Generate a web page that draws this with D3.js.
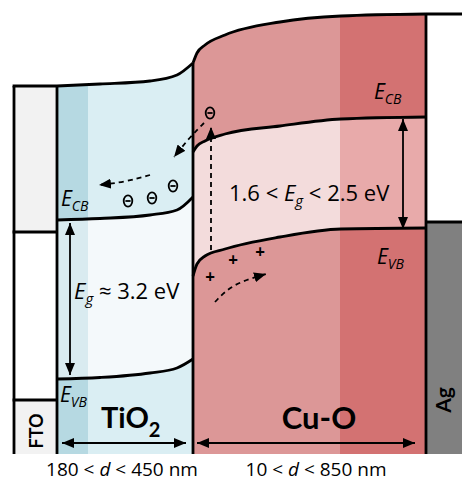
<!DOCTYPE html>
<html><head><meta charset="utf-8">
<script src="https://cdn.jsdelivr.net/npm/d3@7"></script>
<style>
body{margin:0;background:#fff}
svg{display:block;font-family:"Open Sans",Lato,sans-serif}
.name{font-family:Lato,"Open Sans",sans-serif;font-weight:bold}
</style>
</head><body>
<svg id="chart" width="462" height="482"></svg>
<script>
// layers and the positions where they meet (schematic position units)
var layers = ["FTO", "TiO2", "Cu-O", "Ag"];
var layerEdges = [14, 57, 193, 426, 462];

// band edges in eV, TiO2
var tiPos = [57, 100, 150, 177, 193];
var tiTop = [7.36, 7.40, 7.46, 7.58, 7.82];
var tiCB  = [4.68, 4.71, 4.78, 4.88, 5.14];
var tiVB  = [1.50, 1.53, 1.62, 1.72, 1.90];

// Cu-O
var cuPos = [193, 197, 205, 225, 280, 341, 426];
var cuTop = [7.82, 8.02, 8.18, 8.38, 8.64, 8.76, 8.80];
var cuCB  = [6.04, 6.16, 6.26, 6.40, 6.56, 6.70, 6.74];
var cuVB  = [3.56, 3.80, 3.96, 4.10, 4.34, 4.50, 4.52];

// contacts
var ftoLevels = [7.36, 4.44, 1.08];
var agTop = 4.64;

// carriers [position, energy]
var electrons = [[128, 5.06], [152, 5.12], [173, 5.36], [210, 6.82]];
var holes = [[210, 3.54], [233, 3.88], [260, 4.04]];

// carrier paths [position, energy]
var pathExcite = [[211, 4.08], [211, 6.54]];
var pathInject = [[204, 6.62], [190, 6.34], [174, 5.94]];
var pathDrift  = [[150, 5.58], [125, 5.44], [99, 5.38]];
var pathHole   = [[215, 3.04], [232, 3.40], [266, 3.60]];

var svg = d3.select("#chart");
var x = d3.scaleLinear().domain([0, 462]).range([0, 462]);
var y = d3.scaleLinear().domain([0, 9]).range([454, 4]);

function zip(p, v) { return p.map(function(d, i) { return [d, v[i]]; }); }

var line = d3.line().x(function(d) { return x(d[0]); }).y(function(d) { return y(d[1]); }).curve(d3.curveMonotoneX);
var lineBasis = d3.line().x(function(d) { return x(d[0]); }).y(function(d) { return y(d[1]); }).curve(d3.curveBasis);

var defs = svg.append("defs");
defs.append("marker").attr("id", "head")
    .attr("markerUnits", "userSpaceOnUse")
    .attr("viewBox", "0 0 12 10").attr("refX", 12).attr("refY", 5)
    .attr("markerWidth", 12).attr("markerHeight", 10)
    .attr("orient", "auto-start-reverse")
  .append("path").attr("d", "M0,0L12,5L0,10Z").attr("fill", "#000");

// draws one semiconductor layer
function drawLayer(id, pos, top, cb, vb, stripe, col) {
    var topPts = zip(pos, top);
    var area = d3.area().x(function(d) { return x(d[0]); })
        .y1(function(d) { return y(d[1]); }).y0(y(0)).curve(d3.curveMonotoneX);
    defs.append("clipPath").attr("id", "clip-" + id)
      .append("path").attr("d", area(topPts));
    defs.append("clipPath").attr("id", "stripe-" + id)
      .append("rect").attr("x", x(stripe[0])).attr("y", 0)
      .attr("width", x(stripe[1]) - x(stripe[0])).attr("height", y(0));

    var g = svg.append("g").attr("clip-path", "url(#clip-" + id + ")");
    g.append("rect").attr("x", x(pos[0])).attr("y", 0)
        .attr("width", x(pos[pos.length - 1]) - x(pos[0])).attr("height", y(0))
        .attr("fill", col[0]);
    g.append("rect").attr("x", x(stripe[0])).attr("y", 0)
        .attr("width", x(stripe[1]) - x(stripe[0])).attr("height", y(0))
        .attr("fill", col[1]);

    var gapArea = d3.area().x(function(d) { return x(d[0]); })
        .y0(function(d, i) { return y(vb[i]); })
        .y1(function(d) { return y(d[1]); }).curve(d3.curveMonotoneX);
    var cbPts = zip(pos, cb);
    g.append("path").attr("d", gapArea(cbPts)).attr("fill", col[2]);
    g.append("g").attr("clip-path", "url(#stripe-" + id + ")")
      .append("path").attr("d", gapArea(cbPts)).attr("fill", col[3]);

    // band edges
    [top, cb, vb].forEach(function(v) {
        svg.append("path").attr("d", line(zip(pos, v)))
            .attr("fill", "none").attr("stroke", "#000").attr("stroke-width", 2.8);
    });
}

// FTO
svg.append("rect").attr("x", x(layerEdges[0])).attr("y", y(ftoLevels[0]))
    .attr("width", x(layerEdges[1]) - x(layerEdges[0])).attr("height", y(ftoLevels[1]) - y(ftoLevels[0]))
    .attr("fill", "#f2f2f2");
svg.append("rect").attr("x", x(layerEdges[0])).attr("y", y(ftoLevels[2]))
    .attr("width", x(layerEdges[1]) - x(layerEdges[0])).attr("height", y(0) - y(ftoLevels[2]))
    .attr("fill", "#f2f2f2");

// Ag
svg.append("rect").attr("x", x(layerEdges[3])).attr("y", y(agTop))
    .attr("width", x(layerEdges[4]) - x(layerEdges[3])).attr("height", y(0) - y(agTop))
    .attr("fill", "#808080");

drawLayer("ti", tiPos, tiTop, tiCB, tiVB, [57, 88], ["#daeef3", "#b6d9e2", "#f4f9fb", "#d9ebf0"]);
drawLayer("cu", cuPos, cuTop, cuCB, cuVB, [340, 426], ["#dc9797", "#d37272", "#f3dcdc", "#e8aaaa"]);

// outlines of the contacts and interfaces
var outline = svg.append("g").attr("stroke", "#000").attr("stroke-width", 2.8).attr("fill", "none");
ftoLevels.forEach(function(v) {
    outline.append("line").attr("x1", x(layerEdges[0]) - 1.4).attr("x2", x(layerEdges[1]))
        .attr("y1", y(v)).attr("y2", y(v));
});
outline.append("line").attr("x1", x(layerEdges[0])).attr("x2", x(layerEdges[0]))
    .attr("y1", y(ftoLevels[0])).attr("y2", y(0));
outline.append("line").attr("x1", x(layerEdges[1])).attr("x2", x(layerEdges[1]))
    .attr("y1", y(tiTop[0])).attr("y2", y(0));
outline.append("line").attr("x1", x(layerEdges[2])).attr("x2", x(layerEdges[2]))
    .attr("y1", y(cuTop[0])).attr("y2", y(0));
outline.append("line").attr("x1", x(layerEdges[3])).attr("x2", x(layerEdges[3]))
    .attr("y1", y(cuTop[cuTop.length - 1])).attr("y2", y(0));
outline.append("line").attr("x1", x(layerEdges[3])).attr("x2", x(layerEdges[4]))
    .attr("y1", y(cuTop[cuTop.length - 1])).attr("y2", y(cuTop[cuTop.length - 1]));
outline.append("line").attr("x1", x(layerEdges[3])).attr("x2", x(layerEdges[4]))
    .attr("y1", y(agTop)).attr("y2", y(agTop));

// band gap arrows and thickness arrows
function arrow(x1, e1, x2, e2) {
    svg.append("line").attr("x1", x(x1)).attr("y1", y(e1)).attr("x2", x(x2)).attr("y2", y(e2))
        .attr("stroke", "#000").attr("stroke-width", 1.8)
        .attr("marker-start", "url(#head)").attr("marker-end", "url(#head)");
}
arrow(70, tiCB[0] - 0.06, 70, tiVB[0] + 0.08);
arrow(403, cuCB[cuCB.length - 2], 403, cuVB[cuVB.length - 2]);
arrow(62, 0.22, 186, 0.22);
arrow(197, 0.22, 415, 0.22);

// dashed carrier paths
[pathExcite, pathInject, pathDrift, pathHole].forEach(function(p) {
    svg.append("path").attr("d", lineBasis(p)).attr("fill", "none")
        .attr("stroke", "#000").attr("stroke-width", 1.8).attr("stroke-dasharray", "5,4")
        .attr("marker-end", "url(#head)");
});

// electrons and holes
var eg = svg.append("g").attr("stroke", "#000").attr("stroke-width", 1.8).attr("fill", "none");
electrons.forEach(function(d) {
    eg.append("ellipse").attr("cx", x(d[0])).attr("cy", y(d[1])).attr("rx", 4.3).attr("ry", 5.6);
    eg.append("line").attr("x1", x(d[0]) - 2.6).attr("x2", x(d[0]) + 2.6)
        .attr("y1", y(d[1])).attr("y2", y(d[1]));
});
svg.selectAll("text.hole").data(holes).enter().append("text").attr("class", "hole")
    .attr("x", function(d) { return x(d[0]); }).attr("y", function(d) { return y(d[1]) + 5.5; })
    .attr("text-anchor", "middle").attr("font-size", 17).attr("font-weight", "bold").text("+");

// band labels
function eLabel(px, py, sub) {
    var t = svg.append("text").attr("x", px).attr("y", py).attr("font-size", 21);
    t.append("tspan").attr("font-style", "italic").text("E");
    t.append("tspan").attr("font-style", "italic").attr("font-size", 14).attr("dy", 5).text(sub);
}
eLabel(61, 206, "CB");
eLabel(60, 402, "VB");
eLabel(374, 99, "CB");
eLabel(377, 264, "VB");

var g1 = svg.append("text").attr("x", 74).attr("y", 299).attr("font-size", 22);
g1.append("tspan").attr("font-style", "italic").text("E");
g1.append("tspan").attr("font-style", "italic").attr("font-size", 15).attr("dy", 5).text("g");
g1.append("tspan").attr("dy", -5).text(" \u2248 3.2 eV");

var g2 = svg.append("text").attr("x", 229).attr("y", 201).attr("font-size", 22);
g2.append("tspan").text("1.6 < ");
g2.append("tspan").attr("font-style", "italic").text("E");
g2.append("tspan").attr("font-style", "italic").attr("font-size", 15).attr("dy", 5).text("g");
g2.append("tspan").attr("dy", -5).text(" < 2.5 eV");

// layer names
var t1 = svg.append("text").attr("class", "name").attr("x", 101).attr("y", 428).attr("font-size", 29);
t1.append("tspan").text("TiO");
t1.append("tspan").attr("font-size", 20).attr("dy", 9).text("2");
svg.append("text").attr("class", "name").attr("x", 319).attr("y", 429).attr("text-anchor", "middle")
    .attr("font-size", 31).text(layers[2]);
svg.append("text").attr("class", "name").attr("transform", "translate(43,431) rotate(-90)").attr("text-anchor", "middle")
    .attr("font-size", 18).text(layers[0]);
svg.append("text").attr("class", "name").attr("transform", "translate(451,400) rotate(-90)").attr("text-anchor", "middle")
    .attr("font-size", 21).text(layers[3]);

// thickness ranges
function dLabel(cx, lo, hi) {
    var t = svg.append("text").attr("x", cx).attr("y", 476).attr("text-anchor", "middle").attr("font-size", 19);
    t.append("tspan").text(lo + " < ");
    t.append("tspan").attr("font-style", "italic").text("d");
    t.append("tspan").text(" < " + hi + " nm");
}
dLabel(122, 180, 450);
dLabel(316, 10, 850);
</script>
</body></html>
